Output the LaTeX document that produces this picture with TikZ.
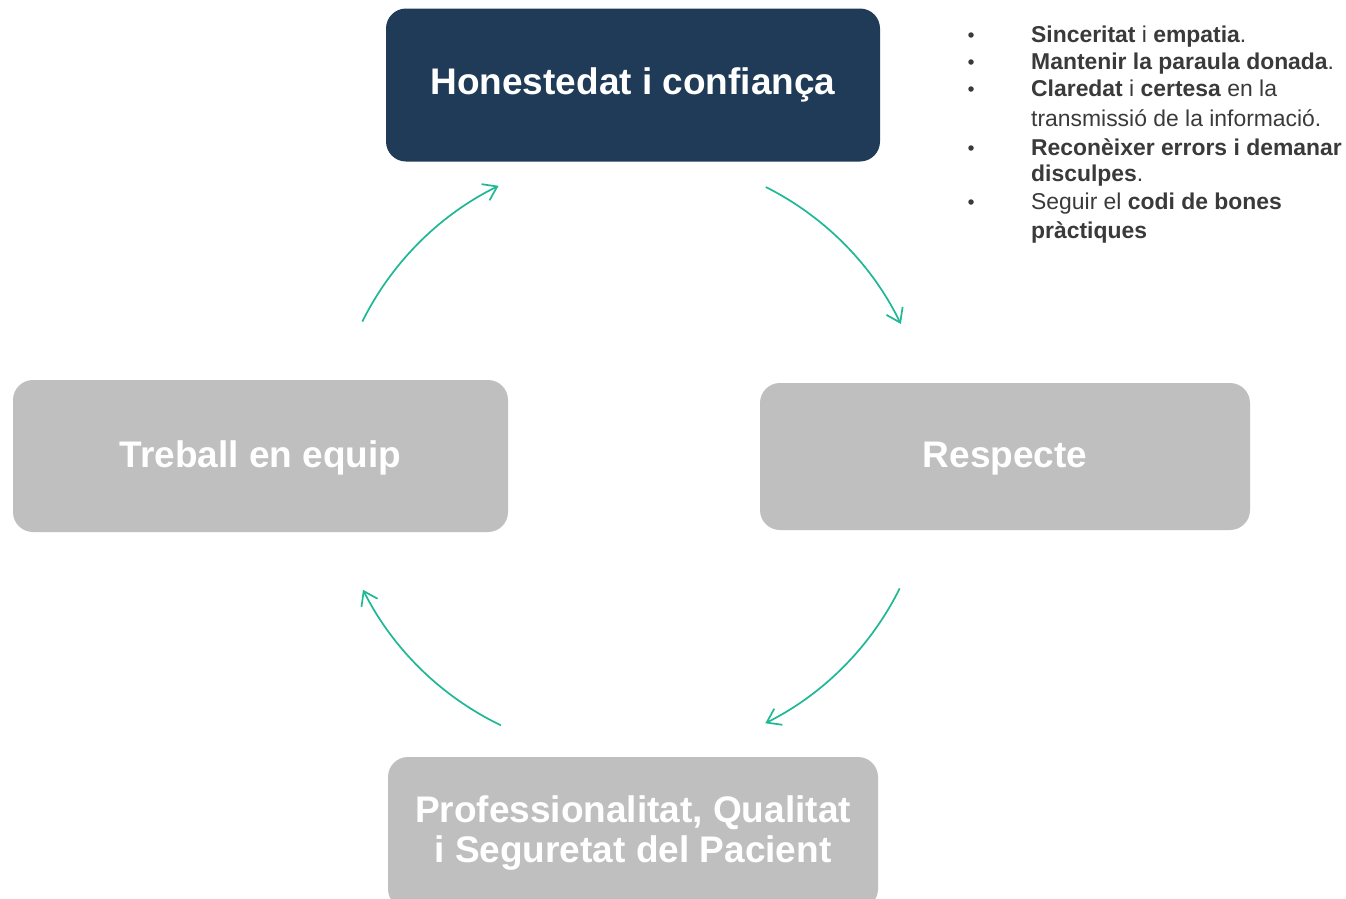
\documentclass[tikz,border=0pt]{standalone}
\usepackage{fontspec}
\setmainfont{Liberation Sans}
\usetikzlibrary{arrows.meta,calc}
\definecolor{navy}{HTML}{1F3B58}
\definecolor{boxgray}{HTML}{BFBFBF}
\definecolor{teal}{HTML}{1FB894}
\definecolor{txtgray}{HTML}{3A3A3A}
\begin{document}
\begin{tikzpicture}[x=1pt,y=-1pt,
  box/.style={rounded corners=20pt, inner sep=0pt, align=center, text=white,
    font=\fontsize{37}{40}\selectfont\bfseries},
  cyc/.style={draw=teal, line width=1.7pt, -{Straight Barb[length=13pt,width=18pt,line width=1.7pt]}},
  btxt/.style={anchor=base west, inner sep=0pt, text=txtgray, font=\fontsize{22.9}{26}\selectfont},
  bdot/.style={circle, fill=txtgray, inner sep=0pt, minimum size=5.5pt}]
\clip (0,0) rectangle (1346,898);
\fill[white] (0,0) rectangle (1346,898);
% boxes
\node[box, fill=navy, minimum width=494pt, minimum height=153pt] (hon) at (633,85) {Honestedat i confiança};
\node[box, fill=boxgray, minimum width=495pt, minimum height=152pt] (tre) at (260.5,456) {\raisebox{-2pt}[\height][\depth]{Treball en equip}};
\node[box, fill=boxgray, minimum width=490pt, minimum height=147pt] (res) at (1005,456.5) {\raisebox{-2pt}[\height][\depth]{Respecte}};
\node[box, fill=boxgray, minimum width=490pt, minimum height=152pt] (pro) at (633,833) {Professionalitat, Qualitat\\i Seguretat del Pacient};
% cycle arrows
\coordinate (c) at (631,455);
\coordinate (a1s) at ($(c)+(-63.3:300)$);
\draw[cyc] (a1s) arc[start angle=-63.3, end angle=-25.9, radius=300];
\coordinate (a2s) at ($(c)+(26.4:300)$);
\draw[cyc] (a2s) arc[start angle=26.4, end angle=63.4, radius=300];
\coordinate (a3s) at ($(c)+(115.7:300)$);
\draw[cyc] (a3s) arc[start angle=115.7, end angle=153.3, radius=300];
\coordinate (a4s) at ($(c)+(-153.6:300)$);
\draw[cyc] (a4s) arc[start angle=-153.6, end angle=-116.2, radius=300];
% bullet list
\node[bdot] (d1) at (971,35) {};
\node[bdot] (d2) at (971,62) {};
\node[bdot] (d3) at (971,89) {};
\node[bdot] (d4) at (971,148) {};
\node[bdot] (d5) at (971,202) {};
\node[btxt] (l1) at (1031,42) {\textbf{Sinceritat} i \textbf{empatia}.};
\node[btxt] (l2) at (1031,69) {\textbf{Mantenir la paraula donada}.};
\node[btxt] (l3) at (1031,96) {\textbf{Claredat} i \textbf{certesa} en la};
\node[btxt] (l4) at (1031,126) {transmissió de la informació.};
\node[btxt] (l5) at (1031,155) {\textbf{Reconèixer errors i demanar}};
\node[btxt] (l6) at (1031,181) {\textbf{disculpes}.};
\node[btxt] (l7) at (1031,209) {Seguir el \textbf{codi de bones}};
\node[btxt] (l8) at (1031,238) {\textbf{pràctiques}};
\end{tikzpicture}
\end{document}
